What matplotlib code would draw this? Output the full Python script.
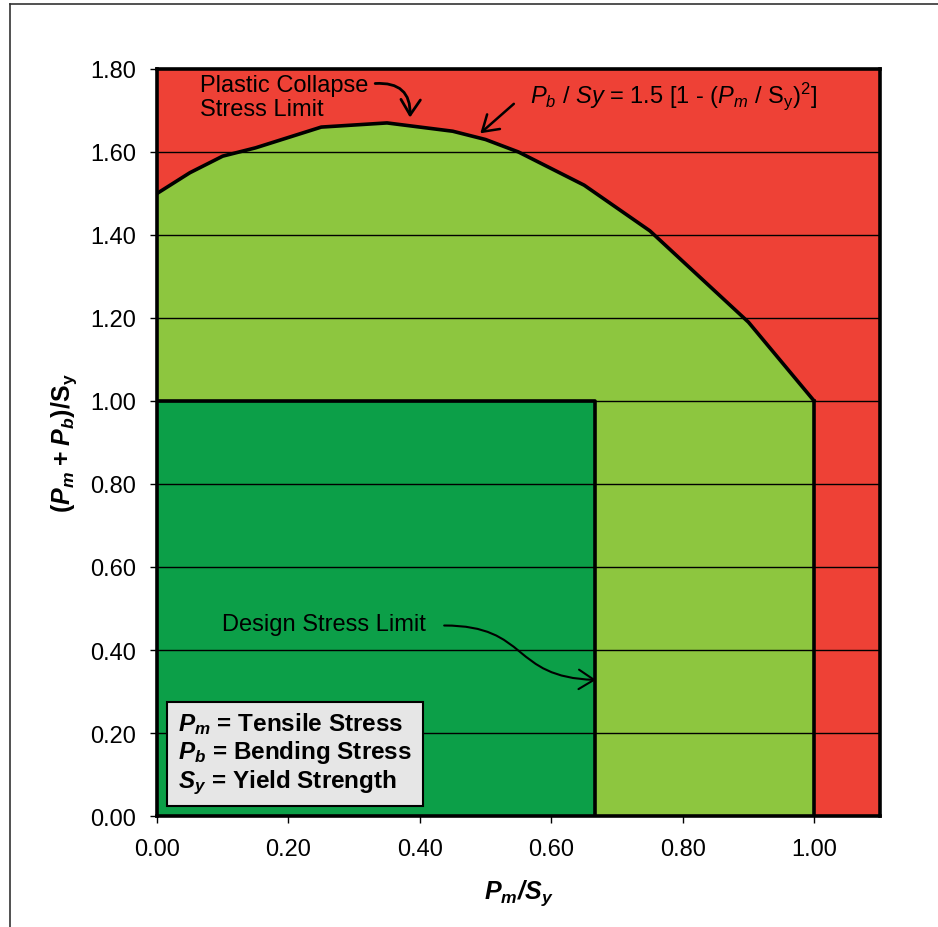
import numpy as np
import matplotlib.pyplot as plt
from matplotlib.path import Path
from matplotlib.patches import FancyArrowPatch
from matplotlib.lines import Line2D

plt.rcParams['font.family'] = ['Liberation Sans', 'DejaVu Sans']
plt.rcParams['mathtext.fontset'] = 'custom'
plt.rcParams['mathtext.rm'] = 'Liberation Sans'
plt.rcParams['mathtext.it'] = 'Liberation Sans:italic'
plt.rcParams['mathtext.bf'] = 'Liberation Sans:bold'
plt.rcParams['mathtext.bfit'] = 'Liberation Sans:bold:italic'

# plastic collapse limit
pm_curve = [0.00, 0.05, 0.10, 0.15, 0.25, 0.35, 0.45, 0.50, 0.55, 0.65, 0.75, 0.90, 1.00]
total_curve = [1.50, 1.55, 1.59, 1.61, 1.66, 1.67, 1.65, 1.63, 1.60, 1.52, 1.41, 1.19, 1.00]

# design stress limit box
design_pm = 0.667
design_total = 1.00

xticks = [0.0, 0.2, 0.4, 0.6, 0.8, 1.0]
yticks = [0.0, 0.2, 0.4, 0.6, 0.8, 1.0, 1.2, 1.4, 1.6, 1.8]

RED = '#EE4136'
LGREEN = '#8DC63F'
DGREEN = '#0C9F48'
HEAD = '->,head_length=0.55,head_width=0.35'

fig = plt.figure(figsize=(9.38, 9.28), dpi=100)
ax = fig.add_axes([0.1674, 0.1196, 0.7706, 0.805])
ax.set_facecolor(RED)

ax.fill_between(pm_curve, 0, total_curve, color=LGREEN, lw=0, zorder=1)
ax.fill_between([0, design_pm], 0, design_total, color=DGREEN, lw=0, zorder=1.5)

for yv in yticks[1:-1]:
    ax.axhline(yv, color='black', lw=1.0, zorder=2)

ax.plot(pm_curve, total_curve, color='black', lw=2.6, zorder=3, solid_joinstyle='miter')
ax.plot([pm_curve[-1], pm_curve[-1]], [0, total_curve[-1]], color='black', lw=2.6, zorder=3)
ax.plot([0, design_pm, design_pm], [design_total, design_total, 0], color='black', lw=2.6, zorder=3)

ax.set_xlim(0, 1.1)
ax.set_ylim(0, 1.8)
ax.set_xticks(xticks)
ax.set_yticks(yticks)
ax.set_xticklabels(['%.2f' % v for v in xticks])
ax.set_yticklabels(['%.2f' % v for v in yticks])
ax.tick_params(direction='out', length=5, width=1, labelsize=17)
ax.tick_params(axis='y', pad=10)
ax.tick_params(axis='x', pad=11)
for s in ax.spines.values():
    s.set_linewidth(2.6)
    s.set_zorder(5)

ax.set_xlabel(r'$\mathbfit{P}_{\mathbfit{m}}\mathbfit{/S}_{\mathbfit{y}}$', fontsize=18, labelpad=12)
ax.set_ylabel(r'$\mathbf{(}\mathbfit{P}_{\mathbfit{m}}\;\mathbf{+}\;\mathbfit{P}_{\mathbfit{b}}\mathbf{)/S}_{\mathbf{y}}$',
              fontsize=18, labelpad=8)

# annotations
ax.text(0.065, 1.733, 'Plastic Collapse\nStress Limit', fontsize=17, va='center', ha='left',
        linespacing=1.15, zorder=6)
ax.annotate('', xy=(0.385, 1.683), xytext=(0.332, 1.765),
            arrowprops=dict(arrowstyle=HEAD, lw=2, mutation_scale=20,
                            color='black', connectionstyle='arc3,rad=-0.55',
                            shrinkA=0, shrinkB=0), zorder=6)

ax.text(0.568, 1.738, r'$P_b$ / $Sy$ = 1.5 [1 - ($P_m$ / S$_\mathrm{y}$)$^2$]', fontsize=17,
        va='center', ha='left', zorder=6)
ax.annotate('', xy=(0.492, 1.645), xytext=(0.543, 1.716),
            arrowprops=dict(arrowstyle=HEAD, lw=1.8, mutation_scale=20,
                            color='black', shrinkA=0, shrinkB=0), zorder=6)

ax.text(0.099, 0.462, 'Design Stress Limit', fontsize=17, va='center', ha='left', zorder=6)
p0 = (0.437, 0.459)
p3 = (0.668, 0.328)
bez = Path([p0, (0.568, 0.459), (0.537, 0.334), p3],
           [Path.MOVETO, Path.CURVE4, Path.CURVE4, Path.CURVE4])
ax.add_patch(FancyArrowPatch(path=bez, arrowstyle=HEAD, mutation_scale=20,
                             lw=1.5, color='black', zorder=6))

legend_txt = (r'$\mathbfit{P}_{\mathbfit{m}}$ = Tensile Stress' + '\n' +
              r'$\mathbfit{P}_{\mathbfit{b}}$ = Bending Stress' + '\n' +
              r'$\mathbfit{S}_{\mathbfit{y}}$ = Yield Strength')
ax.text(0.032, 0.152, legend_txt, fontsize=17.5, fontweight='bold', va='center', ha='left',
        linespacing=1.1, zorder=7,
        bbox=dict(boxstyle='square,pad=0.45', facecolor='#E6E6E6', edgecolor='black', lw=1.5))

# outer frame of the original figure
fig.add_artist(Line2D([10 / 938, 10 / 938], [0, 1 - 5 / 928], color='#333333', lw=1.2))
fig.add_artist(Line2D([10 / 938, 1], [1 - 5 / 928, 1 - 5 / 928], color='#333333', lw=1.2))

fig.savefig('out.png', dpi=100)
